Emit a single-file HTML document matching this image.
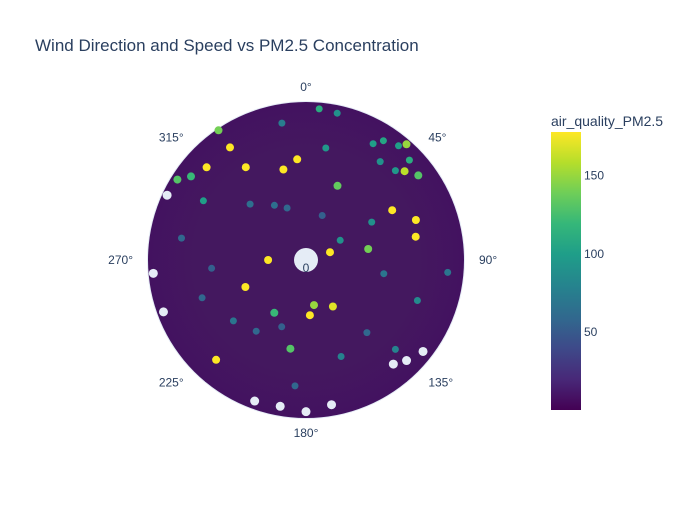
<!DOCTYPE html>
<html><head><meta charset="utf-8"><style>
body{margin:0;background:#fff;}
svg text{font-family:"Liberation Sans",sans-serif;fill:#2a3f5f;}
</style></head><body>
<svg id="chart" width="700" height="500" xmlns="http://www.w3.org/2000/svg">
<defs>
<linearGradient id="vir" x1="0" y1="1" x2="0" y2="0">
<stop offset="0" stop-color="#440154"/><stop offset="0.11" stop-color="#482878"/><stop offset="0.22" stop-color="#3e4989"/><stop offset="0.33" stop-color="#31688e"/><stop offset="0.44" stop-color="#26828e"/><stop offset="0.56" stop-color="#1f9e89"/><stop offset="0.67" stop-color="#35b779"/><stop offset="0.78" stop-color="#6ece58"/><stop offset="0.89" stop-color="#b5de2b"/><stop offset="1" stop-color="#fde725"/>
</linearGradient>
<radialGradient id="cloud" cx="0.5" cy="0.5" r="0.5">
<stop offset="0" stop-color="#44185f"/><stop offset="0.7" stop-color="#44185f"/><stop offset="1" stop-color="#431260"/>
</radialGradient>
</defs>
<text x="35" y="51" font-size="17">Wind Direction and Speed vs PM2.5 Concentration</text>
<circle cx="306" cy="260" r="159" fill="#e5ecf6"/>
<circle cx="306" cy="260" r="158" fill="url(#cloud)"/>
<g id="gaps"></g>
<g id="points"></g>
<circle cx="306" cy="260" r="12" fill="#e5ecf6"/>
<text x="306" y="272" font-size="12" text-anchor="middle">0</text>
<g id="angticks"></g>
<rect x="551" y="132" width="30" height="278" fill="url(#vir)"/>
<text x="551" y="126" font-size="14">air_quality_PM2.5</text>
<g id="cbticks"></g>
</svg>
<script>
const CX=306, CY=260, R=158, RMAX=10;
const theta=[72,270,246,60,70,150,176,170,80,211,190,222,23,355,326,346,327,326,313,78,39,46,45,33,53,37,306,302,41,48,12,300,140,200,100,250,20,330,160,60,280,230,110,350,10,215,135,95,265,315,30,185,60,5,340];
const speed=[1.6,2.4,4.2,6.3,7.4,3.4,3.5,2.9,4.0,3.9,5.7,8.5,5.1,6.4,8.6,5.9,7.0,9.9,8.6,7.1,9.3,9.1,8.0,9.0,8.9,7.8,9.0,9.6,9.7,8.4,9.5,7.5,6.0,4.5,5.0,7.0,3.0,4.0,6.5,2.5,8.0,6.0,7.5,8.8,7.2,5.5,8.0,9.0,6.0,5.0,8.5,8.0,4.8,9.6,3.5];
const pm=[178,178,178,178,178,170,178,150,140,120,130,178,135,178,178,178,178,140,178,178,100,110,95,105,130,90,120,130,150,160,90,100,60,55,70,60,55,65,80,90,60,70,85,75,95,60,80,70,55,65,100,60,90,110,60];
const cbTicks=[50,100,150];
const angTicks=[0,45,90,135,180,225,270,315];
const gapTheta=[180,170,190,135,140,128,265,250,295,200];
const gapR=[9.6,9.3,9.4,9.0,8.6,9.4,9.7,9.6,9.7,9.5];
const CMIN=1, CMAX=178;
const vir=["#440154","#482878","#3e4989","#31688e","#26828e","#1f9e89","#35b779","#6ece58","#b5de2b","#fde725"];
function color(v){let t=Math.max(0,Math.min(1,(v-CMIN)/(CMAX-CMIN)))*9;let i=Math.min(8,Math.floor(t)),f=t-i;
const a=vir[i],b=vir[i+1];const h=(s,k)=>parseInt(s.substr(k,2),16);let o="#";
for(const k of [1,3,5]){o+=Math.round(h(a,k)+(h(b,k)-h(a,k))*f).toString(16).padStart(2,"0");}return o;}
function px(th,r){const a=th*Math.PI/180, d=r/RMAX*R;return [CX+d*Math.sin(a), CY-d*Math.cos(a)];}
function cy(v){return 410-(v-0)/(CMAX)*278;}
const NS="http://www.w3.org/2000/svg";
const gg=document.getElementById("gaps");
gapTheta.forEach((t,i)=>{const [x,y]=px(t,gapR[i]);const c=document.createElementNS(NS,"circle");
c.setAttribute("cx",x);c.setAttribute("cy",y);c.setAttribute("r",4.5);c.setAttribute("fill","#e5ecf6");


gg.appendChild(c);});
const pg=document.getElementById("points");
theta.forEach((t,i)=>{const [x,y]=px(t,speed[i]);const c=document.createElementNS(NS,"circle");
c.setAttribute("cx",x.toFixed(1));c.setAttribute("cy",y.toFixed(1));c.setAttribute("r",pm[i]>=120?4:3.5);c.setAttribute("fill",color(pm[i]));


pg.appendChild(c);});
const ag=document.getElementById("angticks");
angTicks.forEach(a=>{const rad=a*Math.PI/180;const d=R+15;const x=CX+d*Math.sin(rad),y=CY-d*Math.cos(rad);
const t=document.createElementNS(NS,"text");t.setAttribute("x",x);t.setAttribute("y",y+4);t.setAttribute("font-size","12");
let anc="middle";if(Math.sin(rad)>0.3)anc="start";if(Math.sin(rad)<-0.3)anc="end";t.setAttribute("text-anchor",anc);
t.textContent=a+"°";


ag.appendChild(t);});
const cg=document.getElementById("cbticks");
cbTicks.forEach(v=>{const t=document.createElementNS(NS,"text");t.setAttribute("x",584);t.setAttribute("y",cy(v)+4);
t.setAttribute("font-size","12");t.textContent=v;


cg.appendChild(t);});
</script>
</body></html>
